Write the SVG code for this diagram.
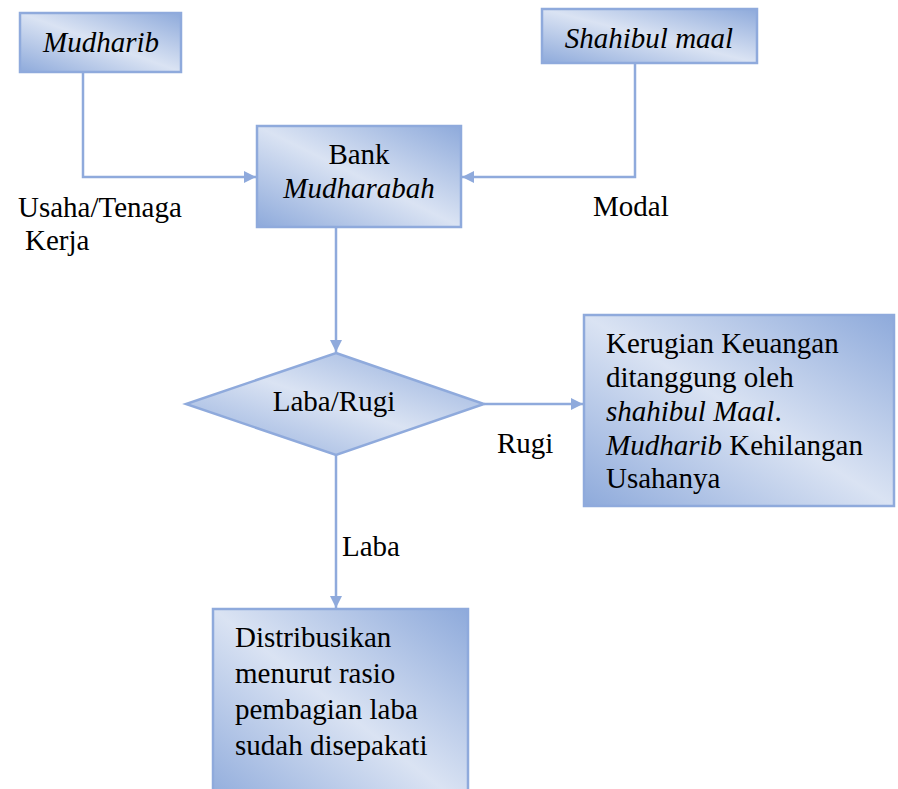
<svg xmlns="http://www.w3.org/2000/svg" width="898" height="789" viewBox="0 0 898 789">
<defs>
<linearGradient id="g" x1="0" y1="1" x2="1" y2="0">
<stop offset="0" stop-color="#8eaadb"/>
<stop offset="0.5" stop-color="#dae3f3"/>
<stop offset="1" stop-color="#8eaadb"/>
</linearGradient>
<marker id="arr" markerWidth="12" markerHeight="12" refX="12" refY="6" orient="auto" markerUnits="userSpaceOnUse">
<path d="M0,0 L12,6 L0,12 Z" fill="#8faadc"/>
</marker>
<style>
.box{fill:url(#g);stroke:#8faadc;stroke-width:2.5}
.c{stroke:#8faadc;stroke-width:2.5;fill:none}
</style>
</defs>
<rect width="898" height="789" fill="#fff"/>
<g id="connectors">
<path class="c" d="M83,72 V177 H256" marker-end="url(#arr)"/>
<path class="c" d="M635,63 V177 H462" marker-end="url(#arr)"/>
<path class="c" d="M336,227 V352" marker-end="url(#arr)"/>
<path class="c" d="M484,404 H583" marker-end="url(#arr)"/>
<path class="c" d="M336,455 V608" marker-end="url(#arr)"/>
</g>
<g font-family="'Liberation Serif', 'Times New Roman', 'DejaVu Serif', serif" font-size="29" fill="#000">
<g id="mudharib">
<rect class="box" x="20" y="13" width="161" height="59"/>
<text x="101" y="52" text-anchor="middle" font-style="italic">Mudharib</text>
</g>
<g id="shahibul">
<rect class="box" x="542" y="9" width="215" height="54"/>
<text x="649" y="48" text-anchor="middle" font-style="italic">Shahibul maal</text>
</g>
<g id="bank">
<rect class="box" x="257" y="126" width="204" height="101"/>
<text x="359" y="164" text-anchor="middle">Bank</text>
<text x="359" y="198" text-anchor="middle" font-style="italic">Mudharabah</text>
</g>
<g id="decision">
<polygon class="box" points="336,353 484,404 336,455 186,404"/>
<text x="334" y="411" text-anchor="middle">Laba/Rugi</text>
</g>
<g id="rugi-box">
<rect class="box" x="584" y="315" width="310" height="191"/>
<text x="606" y="353">Kerugian Keuangan</text>
<text x="606" y="387">ditanggung oleh</text>
<text x="606" y="421"><tspan font-style="italic">shahibul Maal</tspan>.</text>
<text x="606" y="455"><tspan font-style="italic">Mudharib</tspan> Kehilangan</text>
<text x="606" y="488">Usahanya</text>
</g>
<g id="laba-box">
<rect class="box" x="213" y="609" width="255" height="200"/>
<text x="235" y="647">Distribusikan</text>
<text x="235" y="683">menurut rasio</text>
<text x="235" y="719">pembagian laba</text>
<text x="235" y="755">sudah disepakati</text>
</g>
<g id="labels">
<text x="18" y="217">Usaha/Tenaga</text>
<text x="25" y="250">Kerja</text>
<text x="593" y="216">Modal</text>
<text x="497" y="453">Rugi</text>
<text x="342" y="556">Laba</text>
</g>
</g>
</svg>
